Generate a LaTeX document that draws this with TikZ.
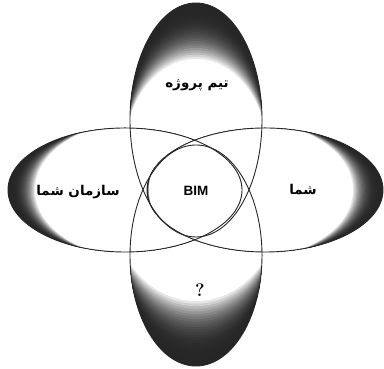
\documentclass[tikz,border=0pt]{standalone}
\usepackage{fontspec}
\usetikzlibrary{shapes.geometric}
\newfontfamily\fa[Script=Arabic]{DejaVu Sans}
\newfontfamily\bimfont{Liberation Sans}
\TeXXeTstate=1
\newcommand{\petalshade}[8]{% outer cx,cy,a,b ; inner cx,cy,a,b
  \begin{scope}
    \clip (#1,#2) ellipse [x radius=#3,y radius=#4];
    \foreach \t in {0,0.04,...,1.01}{
      \pgfmathsetmacro\cx{#1+\t*(#5-#1)}
      \pgfmathsetmacro\cy{#2+\t*(#6-#2)}
      \pgfmathsetmacro\ra{#3+\t*(#7-#3)}
      \pgfmathsetmacro\rb{#4+\t*(#8-#4)}
      \pgfmathsetmacro\k{85*(1-\t*\t*\t)}
      \fill[black!\k] (\cx,\cy) ellipse [x radius=\ra,y radius=\rb];
    }
  \end{scope}}
\begin{document}
\begin{tikzpicture}[x=1pt,y=1pt,
  petal/.style={draw=black!85,line width=0.9pt,ellipse,inner sep=0pt},
  falabel/.style={font=\fa\bfseries\fontsize{13.5}{15}\selectfont,inner sep=0pt}]
\useasboundingbox (0,0) rectangle (384,369);
% shadings
\petalshade{196}{249}{66}{117}{196}{214}{72}{96}
\petalshade{196}{113.5}{66}{110.5}{196}{166}{84}{98}
\petalshade{125}{179}{117}{62}{137}{179}{102}{68}
\petalshade{265}{179}{118}{62}{251}{179}{102}{68}
% outlines
\node[petal,minimum width=132pt,minimum height=234pt] (top) at (196,249) {};
\node[petal,minimum width=132pt,minimum height=221pt] (bottom) at (196,113.5) {};
\node[petal,minimum width=234pt,minimum height=124pt] (left) at (125,179) {};
\node[petal,minimum width=236pt,minimum height=124pt] (right) at (265,179) {};
\node (bim) at (196,178) {\bimfont\bfseries\fontsize{13.5}{15}\selectfont BIM};
\node[falabel] (team) at (197,284) {\beginR تیم پروژه\endR};
\node[falabel] (org) at (78,177) {\beginR سازمان شما\endR};
\node[falabel] (you) at (303,179) {\beginR شما\endR};
\node (q) at (200,79) {\bfseries\fontsize{18}{20}\selectfont ?};
\end{tikzpicture}
\end{document}
